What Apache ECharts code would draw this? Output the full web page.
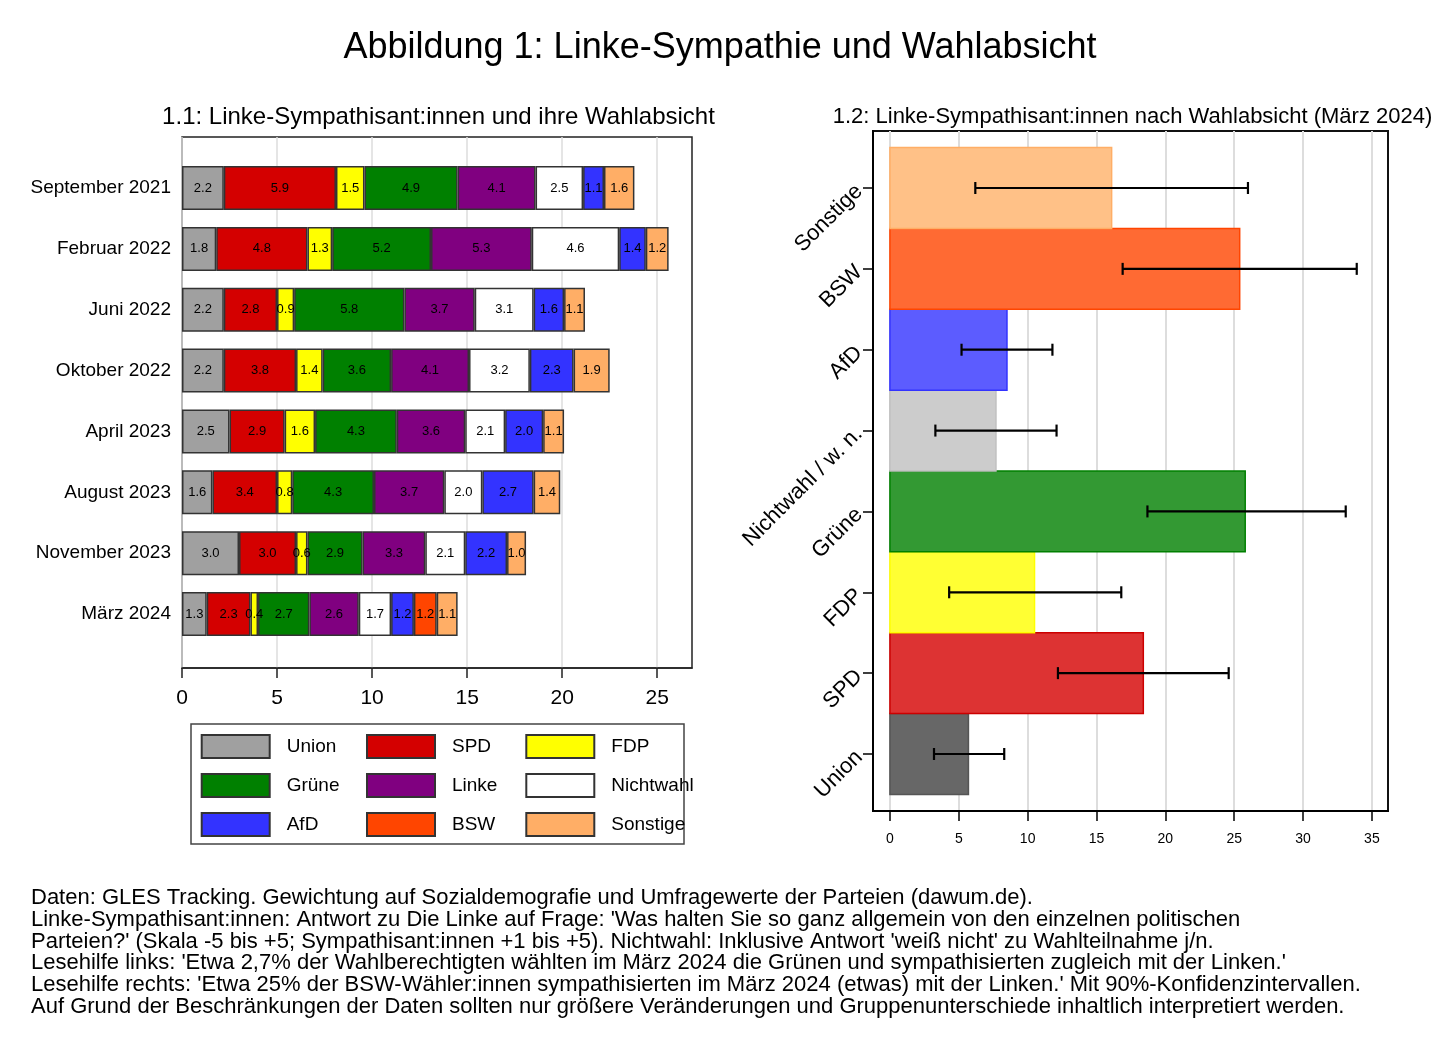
<!DOCTYPE html>
<html><head><meta charset="utf-8">
<script src="https://cdn.jsdelivr.net/npm/echarts@6/dist/echarts.min.js"></script>
<style>html,body{margin:0;padding:0;background:#fff}#c{width:1441px;height:1048px}</style>
</head><body><div id="c"></div><script>
const waves = ['September 2021','Februar 2022','Juni 2022','Oktober 2022','April 2023','August 2023','November 2023','März 2024'];
const parties = ['Union','SPD','FDP','Grüne','Linke','Nichtwahl','AfD','BSW','Sonstige'];
const union = [2.2,1.8,2.2,2.2,2.5,1.6,3.0,1.3];
const spd = [5.9,4.8,2.8,3.8,2.9,3.4,3.0,2.3];
const fdp = [1.5,1.3,0.9,1.4,1.6,0.8,0.6,0.4];
const gruene = [4.9,5.2,5.8,3.6,4.3,4.3,2.9,2.7];
const linke = [4.1,5.3,3.7,4.1,3.6,3.7,3.3,2.6];
const nichtwahl = [2.5,4.6,3.1,3.2,2.1,2.0,2.1,1.7];
const afd = [1.1,1.4,1.6,2.3,2.0,2.7,2.2,1.2];
const bsw = [null,null,null,null,null,null,null,1.2];
const sonstige = [1.6,1.2,1.1,1.9,1.1,1.4,1.0,1.1];
const leftTicks = [0,5,10,15,20,25];

const rightCategories = ['Union','SPD','FDP','Grüne','Nichtwahl / w. n.','AfD','BSW','Sonstige'];
const rightValues = [5.7,18.4,10.5,25.8,7.7,8.5,25.4,16.1];
const rightLower = [3.2,12.2,4.3,18.7,3.3,5.2,16.9,6.2];
const rightUpper = [8.3,24.6,16.8,33.1,12.1,11.8,33.9,26.0];
const rightTicks = [0,5,10,15,20,25,30,35];

const footnote = [
"Daten: GLES Tracking. Gewichtung auf Sozialdemografie und Umfragewerte der Parteien (dawum.de).",
"Linke-Sympathisant:innen: Antwort zu Die Linke auf Frage: 'Was halten Sie so ganz allgemein von den einzelnen politischen",
"Parteien?' (Skala -5 bis +5; Sympathisant:innen +1 bis +5). Nichtwahl: Inklusive Antwort 'weiß nicht' zu Wahlteilnahme j/n.",
"Lesehilfe links: 'Etwa 2,7% der Wahlberechtigten wählten im März 2024 die Grünen und sympathisierten zugleich mit der Linken.'",
"Lesehilfe rechts: 'Etwa 25% der BSW-Wähler:innen sympathisierten im März 2024 (etwas) mit der Linken.' Mit 90%-Konfidenzintervallen.",
"Auf Grund der Beschränkungen der Daten sollten nur größere Veränderungen und Gruppenunterschiede inhaltlich interpretiert werden."
];

const leftSeriesData = [union,spd,fdp,gruene,linke,nichtwahl,afd,bsw,sonstige];
const leftColors = ['#A0A0A0','#D40000','#FFFF00','#008000','#800080','#FFFFFF','#3333FF','#FF4500','#FFAE66'];
const rightFill = ['#676767','#DD3333','#FFFF33','#339933','#CCCCCC','#5C5CFF','#FF6A33','#FFC187'];
const rightStroke = ['#555555','#CC0000','#FFFF00','#008000','#C0C0C0','#3333FF','#FF4500','#FFAE66'];
const FF = '"Liberation Sans", Arial, sans-serif';

const chart = echarts.init(document.getElementById('c'), null, {renderer:'canvas'});

const leftSeries = parties.map((p,i)=>({
  name:p, type:'bar', stack:'s', xAxisIndex:0, yAxisIndex:0,
  data:leftSeriesData[i], barWidth:44,
  itemStyle:{color:leftColors[i], borderColor:'#333', borderWidth:1.5},
  label:{show:true, position:'inside', color:'#000', fontSize:13, fontFamily:FF, textBorderWidth:0,
    formatter:q=> (q.value==null? '' : Number(q.value).toFixed(1))},
  emphasis:{disabled:true}, animation:false
}));

const rightSeries = {
  type:'custom', xAxisIndex:2, yAxisIndex:2, animation:false,
  data: rightValues.map((v,i)=>[v,i,rightLower[i],rightUpper[i]]),
  encode:{x:[0,2,3], y:1},
  renderItem:function(params, api){
    const i = params.dataIndex;
    const v = api.value(0), y = api.value(1), lo = api.value(2), hi = api.value(3);
    const a = api.coord([0, y+0.5]); const b = api.coord([v, y-0.5]);
    const l = api.coord([lo,y]), h = api.coord([hi,y]);
    const es = {stroke:'#000', lineWidth:2.2};
    return {type:'group', children:[
      {type:'rect', shape:{x:a[0], y:a[1], width:b[0]-a[0], height:b[1]-a[1]}, style:{fill:rightFill[i], stroke:rightStroke[i], lineWidth:1.5}},
      {type:'line', shape:{x1:l[0],y1:l[1],x2:h[0],y2:h[1]}, style:es},
      {type:'line', shape:{x1:l[0],y1:l[1]-6,x2:l[0],y2:l[1]+6}, style:es},
      {type:'line', shape:{x1:h[0],y1:h[1]-6,x2:h[0],y2:h[1]+6}, style:es}
    ]};
  }
};

function legendCol(names, left){
  return {orient:'vertical', left:left, top:734, itemWidth:68, itemHeight:23, itemGap:14,
    icon:'rect', selectedMode:false, data:names, padding:0,
    textStyle:{fontSize:19, fontFamily:FF, color:'#000', padding:[0,0,0,12], lineHeight:23}};
}

const option = {
  backgroundColor:'#fff',
  animation:false,
  textStyle:{fontFamily:FF},
  grid:[
    {left:182, top:157.6, width:510, height:486.9, containLabel:false},
    {left:182, top:137, width:510, height:531, show:true, borderColor:'#222', borderWidth:1.5, backgroundColor:'transparent'},
    {left:873, top:131, width:515, height:680, show:true, borderColor:'#111', borderWidth:2, backgroundColor:'transparent'}
  ],
  xAxis:[
    {gridIndex:0, type:'value', min:0, max:26.83, show:false},
    {gridIndex:1, type:'value', min:0, max:26.83, interval:5, position:'bottom',
      axisLine:{show:true, onZero:false, lineStyle:{color:'#222', width:1.5}},
      axisTick:{show:true, inside:false, length:10, customValues:leftTicks, lineStyle:{color:'#222', width:1.5}},
      axisLabel:{customValues:leftTicks, fontSize:21, color:'#000', margin:20, fontFamily:FF},
      splitLine:{show:true, lineStyle:{color:'#DDDDDD', width:1.5}}},
    {gridIndex:2, type:'value', min:-1.23, max:36.17, minInterval:5, maxInterval:5, position:'bottom',
      axisLine:{show:true, onZero:false, lineStyle:{color:'#000', width:2}},
      axisTick:{show:true, inside:false, length:10, customValues:rightTicks, lineStyle:{color:'#000', width:1.5}},
      axisLabel:{customValues:rightTicks, fontSize:14, color:'#000', margin:21, fontFamily:FF},
      splitLine:{show:true, lineStyle:{color:'#DDDDDD', width:2}}}
  ],
  yAxis:[
    {gridIndex:0, type:'category', data:waves, inverse:true,
      axisLine:{show:false, onZero:false}, axisTick:{show:false},
      axisLabel:{fontSize:19, color:'#000', margin:11, fontFamily:FF}, splitLine:{show:false}},
    {gridIndex:1, type:'value', min:0, max:1, show:false},
    {gridIndex:2, type:'value', min:-0.705, max:7.705, minInterval:1, maxInterval:1,
      axisLine:{show:true, onZero:false, lineStyle:{color:'#000', width:2}},
      axisTick:{show:true, inside:false, length:10, customValues:[0,1,2,3,4,5,6,7], lineStyle:{color:'#000', width:1.5}},
      axisLabel:{customValues:[0,1,2,3,4,5,6,7], rotate:45, fontSize:22, color:'#000', margin:14, fontFamily:FF,
        formatter:v=>rightCategories[Math.round(v)]},
      splitLine:{show:false}}
  ],
  legend:[
    legendCol(['Union','Grüne','AfD'], 200.7),
    legendCol(['SPD','Linke','BSW'], 366),
    legendCol(['FDP','Nichtwahl','Sonstige'], 525.3)
  ],
  series: leftSeries.concat([rightSeries]),
  graphic:[
    {type:'text', x:720, y:48, style:{text:'Abbildung 1: Linke-Sympathie und Wahlabsicht', fontSize:36, fontFamily:FF, fill:'#000', align:'center', verticalAlign:'middle', textAlign:'center', textVerticalAlign:'middle'}},
    {type:'text', x:438.5, y:117, style:{text:'1.1: Linke-Sympathisant:innen und ihre Wahlabsicht', fontSize:24, fontFamily:FF, fill:'#000', align:'center', verticalAlign:'middle', textAlign:'center', textVerticalAlign:'middle'}},
    {type:'text', x:1132.5, y:117, style:{text:'1.2: Linke-Sympathisant:innen nach Wahlabsicht (März 2024)', fontSize:22, fontFamily:FF, fill:'#000', align:'center', verticalAlign:'middle', textAlign:'center', textVerticalAlign:'middle'}},
    {type:'rect', shape:{x:191, y:724, width:493, height:120}, style:{fill:'none', stroke:'#444', lineWidth:1.5}, z:-1},
    {type:'text', x:31, y:887, style:{text:footnote.join('\n'), fontSize:22, lineHeight:21.8, fontFamily:FF, fill:'#000', align:'left', verticalAlign:'top', textAlign:'left', textVerticalAlign:'top'}}
  ]
};
chart.setOption(option);
</script></body></html>
